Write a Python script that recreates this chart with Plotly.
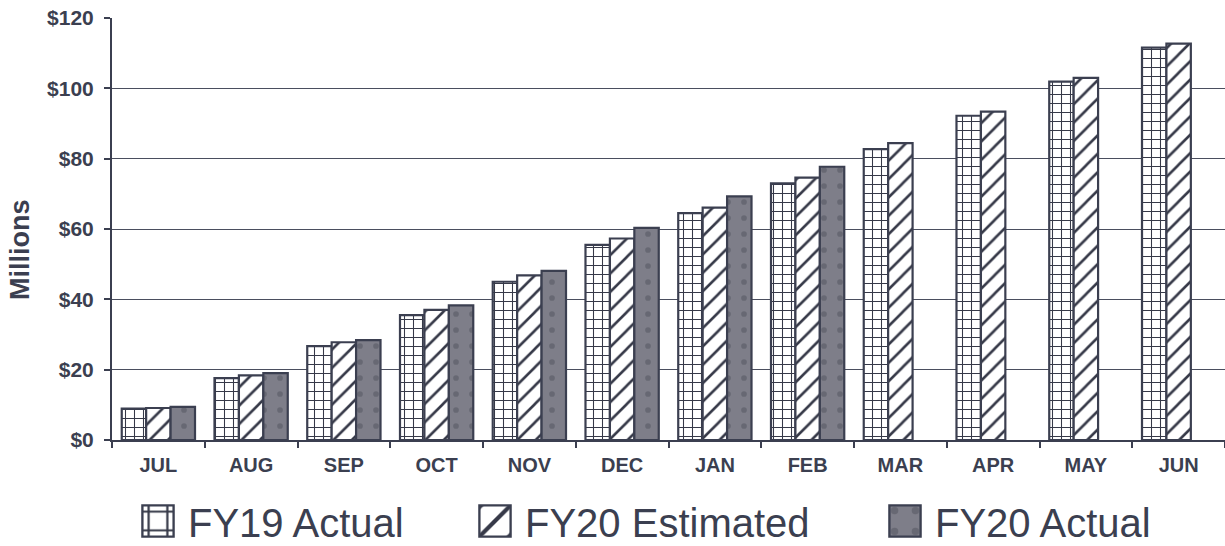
import plotly.graph_objects as go

months = ["JUL", "AUG", "SEP", "OCT", "NOV", "DEC", "JAN", "FEB", "MAR", "APR", "MAY", "JUN"]
fy19_actual = [8.9, 17.6, 26.7, 35.5, 45.0, 55.5, 64.5, 73.0, 82.7, 92.2, 101.9, 111.6]
fy20_estimated = [9.1, 18.4, 27.8, 37.0, 46.8, 57.3, 66.1, 74.6, 84.4, 93.4, 103.0, 112.7]
fy20_actual = [9.4, 19.0, 28.4, 38.3, 48.1, 60.3, 69.3, 77.7]
y_ticks = [0, 20, 40, 60, 80, 100, 120]
y_tick_labels = ["$0", "$20", "$40", "$60", "$80", "$100", "$120"]

ink = "#3b3f50"
hatch = "#363948"
font = "Liberation Sans, Arial, sans-serif"

# plot area in pixels (for placing the legends)
PL, PR, PT, PB = 112, 1225, 18, 440
def px_x(p):
    return (p - PL) / (PR - PL)
def px_y(p):
    return (PB - p) / (PB - PT)

fig = go.Figure()
fig.add_trace(go.Bar(
    name="FY19 Actual", x=months, y=fy19_actual, legend="legend",
    marker=dict(color="white", line=dict(color=ink, width=2.2),
                pattern=dict(shape="+", fillmode="replace", fgcolor=hatch, fgopacity=1,
                             bgcolor="white", size=9, solidity=0.22)),
))
fig.add_trace(go.Bar(
    name="FY20 Estimated", x=months, y=fy20_estimated, legend="legend2",
    marker=dict(color="white", line=dict(color=ink, width=2.2),
                pattern=dict(shape="/", fillmode="replace", fgcolor=hatch, fgopacity=1,
                             bgcolor="white", size=13, solidity=0.2)),
))
fig.add_trace(go.Bar(
    name="FY20 Actual", x=months[:len(fy20_actual)], y=fy20_actual, legend="legend3",
    marker=dict(color="#7e7e89", line=dict(color=ink, width=2.2),
                pattern=dict(shape=".", fillmode="replace", fgcolor="#676873", fgopacity=1,
                             bgcolor="#7e7e89", size=16, solidity=0.1)),
))

leg_common = dict(orientation="h", xanchor="left", yanchor="middle", y=px_y(521),
                  font=dict(size=40, family=font, color=ink), itemwidth=50,
                  bgcolor="rgba(0,0,0,0)", borderwidth=0)

fig.update_layout(
    width=1225, height=546,
    margin=dict(l=PL, r=1225 - PR, t=PT, b=546 - PB, autoexpand=False),
    paper_bgcolor="white", plot_bgcolor="white",
    barmode="group", bargap=0.21, bargroupgap=0,
    font=dict(family=font, color=ink),
    showlegend=True,
    legend=dict(x=px_x(158 - 30), **leg_common),
    legend2=dict(x=px_x(495 - 30), **leg_common),
    legend3=dict(x=px_x(905 - 30), **leg_common),
    annotations=[dict(text="Millions", xref="paper", yref="paper", x=px_x(20), y=px_y(250),
                      xanchor="center", yanchor="middle", textangle=-90, showarrow=False,
                      font=dict(size=27, family=font, color=ink, weight="bold"))],
)
fig.update_xaxes(
    range=[-0.5, 11.5], showline=True, linecolor=ink, linewidth=2,
    ticks="outside", tickson="boundaries", ticklen=6, tickcolor=ink, tickwidth=2,
    ticklabelstandoff=6,
    tickfont=dict(size=20, family=font, color=ink, weight="bold"),
    showgrid=False, automargin=False,
)
fig.update_yaxes(
    range=[0, 120], tickvals=y_ticks, ticktext=y_tick_labels,
    showline=True, linecolor=ink, linewidth=2,
    ticks="outside", ticklen=6, tickcolor=ink, tickwidth=2,
    ticklabelstandoff=6,
    tickfont=dict(size=21, family=font, color=ink, weight="bold"),
    showgrid=True, gridcolor="#4a4e5e", gridwidth=1.3,
    zeroline=False, automargin=False,
)

post = """
document.body.style.margin='0';
document.body.style.overflow='hidden';
var gd=document.getElementsByClassName('plotly-graph-div')[0];
function bigIcons(){
  gd.querySelectorAll('g.legendpoints path').forEach(function(p){
    var t=(p.getAttribute('transform')||'').replace(/\\s*scale\\([^)]*\\)/,'');
    p.setAttribute('transform', t+' scale(2.6)');
    p.style.strokeWidth='0.9px';
  });
}
bigIcons();
setTimeout(bigIcons, 50);
gd.on('plotly_afterplot', bigIcons);
"""
fig.write_html("out.html", post_script=post, config={"displayModeBar": False})
